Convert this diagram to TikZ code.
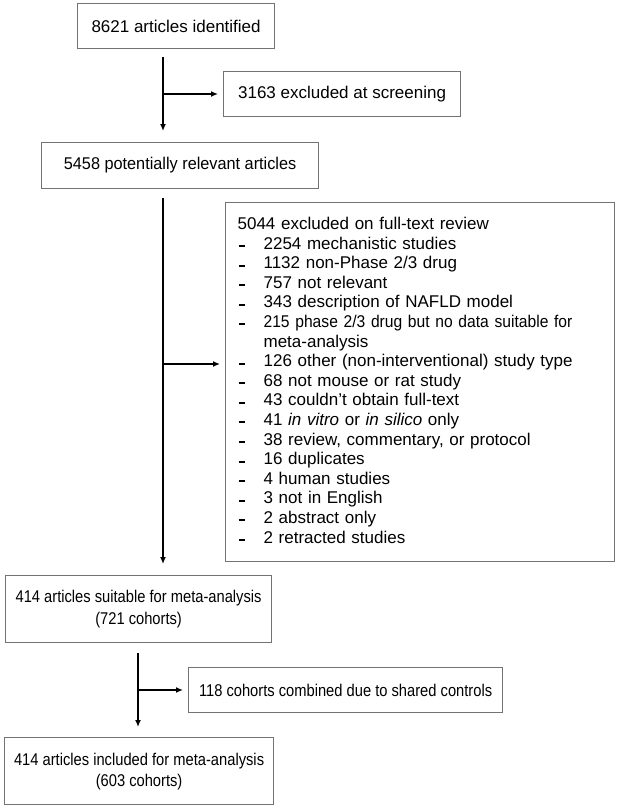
\documentclass[tikz,border=0pt]{standalone}
\usepackage{fontspec}
\setmainfont{Liberation Sans}
\newfontfamily\narrowA[FakeStretch=0.865]{Liberation Sans}
\newfontfamily\narrowB[FakeStretch=0.957]{Liberation Sans}
\newfontfamily\narrowC[FakeStretch=0.92]{Liberation Sans}
\usetikzlibrary{arrows.meta}
\definecolor{boxgray}{rgb}{0.45,0.45,0.45}
\newcommand{\itm}{\makebox[26pt][l]{\hspace{1pt}\raisebox{2pt}{\rule{6.5pt}{2pt}}}}
\begin{document}
\begin{tikzpicture}[x=1pt,y=-1pt,
 box/.style={draw=boxgray, line width=1.2pt, inner sep=0pt, anchor=north west, align=center, font=\fontsize{17}{21.5}\selectfont},
 arr/.style={line width=1.4pt, -{Latex[length=7pt,width=6pt]}}]
\useasboundingbox (0,0) rectangle (617,808);
\node[box, minimum width=197pt, minimum height=45pt] (b1) at (77,3) {8621 articles identified};
\node[box, minimum width=237pt, minimum height=45pt] (b2) at (223,71) {3163 excluded at screening};
\node[box, minimum width=277pt, minimum height=46pt, font=\narrowB\fontsize{17}{21.5}\selectfont] (b3) at (41,142) {5458 potentially relevant articles};
\node[box, minimum width=389pt, minimum height=359pt, inner xsep=12pt, text width=365pt, align=left, font=\fontsize{17}{19.6}\selectfont] (b4) at (225,202) {5044 excluded on full-text review\\
\itm 2254 mechanistic studies\\
\itm 1132 non-Phase 2/3 drug\\
\itm 757 not relevant\\
\itm 343 description of NAFLD model\\
\itm {\narrowC 215 phase 2/3 drug but no data suitable for}\\
\hspace*{26pt}meta-analysis\\
\itm 126 other (non-interventional) study type\\
\itm 68 not mouse or rat study\\
\itm 43 couldn’t obtain full-text\\
\itm 41 \textit{in vitro} or \textit{in silico} only\\
\itm 38 review, commentary, or protocol\\
\itm 16 duplicates\\
\itm 4 human studies\\
\itm 3 not in English\\
\itm 2 abstract only\\
\itm 2 retracted studies\rule[-4pt]{0pt}{0pt}};
\node[box, minimum width=266pt, minimum height=67pt, font=\narrowA\fontsize{17}{22.5}\selectfont] (b5) at (5,575) {414 articles suitable for meta-analysis\\(721 cohorts)};
\node[box, minimum width=314pt, minimum height=45pt, font=\narrowA\fontsize{17}{21.5}\selectfont] (b6) at (188,667) {118 cohorts combined due to shared controls};
\node[box, minimum width=269pt, minimum height=67pt, font=\narrowA\fontsize{17}{21}\selectfont] (b7) at (4,737) {414 articles included for meta-analysis\\(603 cohorts)};
\coordinate (s1) at (163,0);
\coordinate (s2) at (138,0);
\coordinate (j1) at (163,94);
\coordinate (j2) at (163,364);
\coordinate (j3) at (138,690);
\draw[arr, shorten <=8pt, shorten >=11pt] (b1.south -| s1) -- (b3.north -| s1);
\draw[arr, shorten >=5pt] (j1) -- (b2.west |- j1);
\draw[arr, shorten <=9pt, shorten >=11pt] (b3.south -| s1) -- (b5.north -| s1);
\draw[arr, shorten >=5pt] (j2) -- (b4.west |- j2);
\draw[arr, shorten <=10pt, shorten >=10pt] (b5.south -| s2) -- (b7.north -| s2);
\draw[arr, shorten >=5pt] (j3) -- (b6.west |- j3);
\end{tikzpicture}
\end{document}
